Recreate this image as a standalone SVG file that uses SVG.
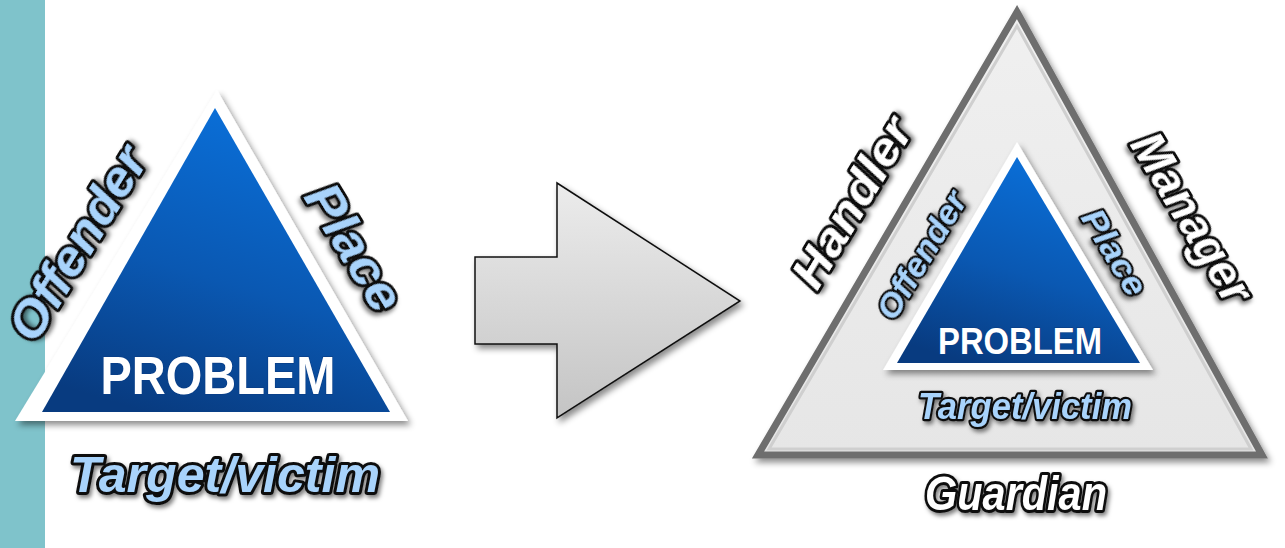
<svg xmlns="http://www.w3.org/2000/svg" width="1285" height="548" viewBox="0 0 1285 548">
<defs>
<linearGradient id="blue" x1="0.65" y1="0" x2="0.3" y2="1">
<stop offset="0" stop-color="#0a70da"/>
<stop offset="0.55" stop-color="#0a58b2"/>
<stop offset="1" stop-color="#083b80"/>
</linearGradient>
<linearGradient id="arrowg" x1="0" y1="0" x2="0" y2="1">
<stop offset="0" stop-color="#ececec"/>
<stop offset="1" stop-color="#c4c4c4"/>
</linearGradient>
<linearGradient id="grayg" x1="0" y1="0" x2="0" y2="1">
<stop offset="0" stop-color="#f0f0f0"/>
<stop offset="1" stop-color="#e6e6e6"/>
</linearGradient>
<filter id="sh" x="-20%" y="-20%" width="140%" height="140%">
<feDropShadow dx="3" dy="4" stdDeviation="3" flood-color="#000" flood-opacity="0.45"/>
</filter>
<filter id="tsh" x="-20%" y="-40%" width="140%" height="180%">
<feDropShadow dx="2" dy="3" stdDeviation="2" flood-color="#000" flood-opacity="0.5"/>
</filter>
</defs>
<style>
.lbl{font-family:"Liberation Sans",Arial,sans-serif;font-weight:bold;font-style:italic;stroke:#111;stroke-linejoin:round;paint-order:stroke;filter:url(#tsh)}
.blue{fill:#a8d3fb}
.white{fill:#ffffff}
.prob{font-family:"Liberation Sans",Arial,sans-serif;font-weight:bold;fill:#fff;stroke:#0a3f88;stroke-width:1.5;paint-order:stroke}
</style>
<rect x="0" y="0" width="1285" height="548" fill="#ffffff"/>
<rect id="sidebar" x="0" y="0" width="45" height="548" fill="#7fc3cb"/>

<g id="left-triangle">
<polygon points="217,90 408,421 15,421" fill="#ffffff" filter="url(#sh)"/>
<polygon points="215,108 390,412 42,412" fill="url(#blue)"/>
<text class="prob" x="218" y="394" font-size="54" text-anchor="middle" textLength="235" lengthAdjust="spacingAndGlyphs">PROBLEM</text>
</g>
<g id="left-offender"><text class="lbl blue" stroke-width="6" font-size="50" text-anchor="middle" transform="translate(77 243) rotate(-58.5)" y="18" textLength="218" lengthAdjust="spacingAndGlyphs">Offender</text></g>
<g id="left-place"><text class="lbl blue" stroke-width="6" font-size="50" text-anchor="middle" transform="translate(355 247) rotate(58.5)" y="18" textLength="140" lengthAdjust="spacingAndGlyphs">Place</text></g>
<g id="left-target"><text class="lbl blue" stroke-width="6" font-size="50" text-anchor="middle" x="225" y="492" textLength="310" lengthAdjust="spacingAndGlyphs">Target/victim</text></g>

<g id="connectors">
<polygon id="arrow" points="475,257 557,257 557,183 740,301 557,418 557,344 475,344" fill="url(#arrowg)" stroke="#111" stroke-width="1.5" stroke-linejoin="miter" filter="url(#sh)"/>
</g>

<g id="right-outer">
<polygon points="1017,12 1262,455 758,455" fill="url(#grayg)" stroke="#6e6e6e" stroke-width="7" stroke-linejoin="miter" filter="url(#sh)"/>
<polygon points="1017,26 1251,449 769,449" fill="none" stroke="#cfcfcf" stroke-width="3"/>
</g>
<g id="right-triangle">
<polygon points="1017,142 1153,370 883,370" fill="#ffffff" filter="url(#sh)"/>
<polygon points="1017,157 1140,363 897,363" fill="url(#blue)"/>
<text class="prob" x="1020" y="354" font-size="36" text-anchor="middle" textLength="164" lengthAdjust="spacingAndGlyphs">PROBLEM</text>
</g>
<g id="right-offender"><text class="lbl blue" stroke-width="4.5" font-size="34" text-anchor="middle" transform="translate(921 255) rotate(-59)" y="12" textLength="143" lengthAdjust="spacingAndGlyphs">Offender</text></g>
<g id="right-place"><text class="lbl blue" stroke-width="4.5" font-size="34" text-anchor="middle" transform="translate(1115 252) rotate(59)" y="12" textLength="95" lengthAdjust="spacingAndGlyphs">Place</text></g>
<g id="right-target"><text class="lbl blue" stroke-width="4.5" font-size="37" text-anchor="middle" x="1025" y="419" textLength="214" lengthAdjust="spacingAndGlyphs">Target/victim</text></g>
<g id="handler"><text class="lbl white" stroke-width="6" font-size="46" text-anchor="middle" transform="translate(851 202) rotate(-59)" y="17" textLength="189" lengthAdjust="spacingAndGlyphs">Handler</text></g>
<g id="manager"><text class="lbl white" stroke-width="6" font-size="46" text-anchor="middle" transform="translate(1193 217) rotate(59)" y="17" textLength="190" lengthAdjust="spacingAndGlyphs">Manager</text></g>
<g id="guardian"><text class="lbl white" stroke-width="6" font-size="48" text-anchor="middle" x="1016" y="510" textLength="182" lengthAdjust="spacingAndGlyphs">Guardian</text></g>
</svg>
